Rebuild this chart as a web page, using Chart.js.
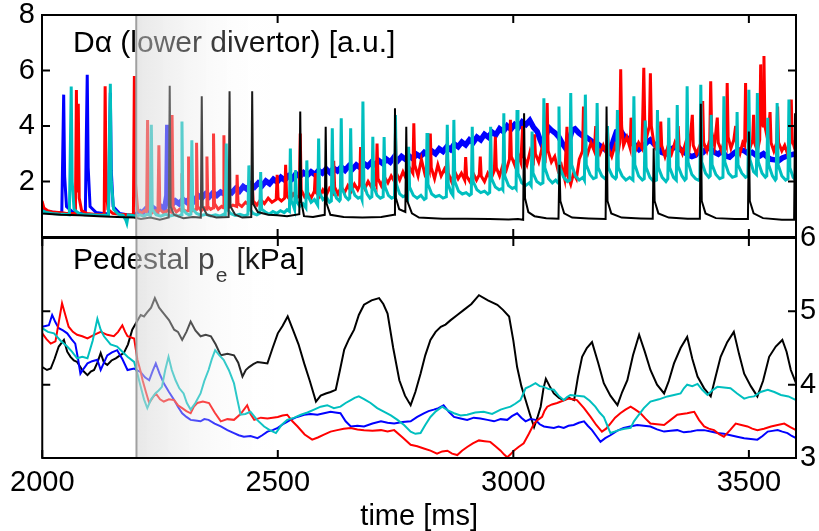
<!DOCTYPE html>
<html>
<head>
<meta charset="utf-8">
<script src="https://cdn.jsdelivr.net/npm/chart.js@4.4.0/dist/chart.umd.min.js"></script>
<style>
  body { margin: 0; background: #fff; }
  #wrap { position: relative; width: 819px; height: 531px; overflow: hidden; }
  canvas { position: absolute; left: 0; }
  #topChart { top: -10px; }
  #botChart { top: 218px; }
</style>
</head>
<body>
<div id="wrap">
  <canvas id="topChart" width="819" height="277"></canvas>
  <canvas id="botChart" width="819" height="313"></canvas>
</div>
<script>
// axis ticks
const timeTicks = [2000, 2500, 3000, 3500];
const daTicks = [2, 4, 6, 8];
const peTicks = [3, 4, 5, 6];
const shadeStart = 2200;
const shadeEnd = 2500;

// D-alpha (lower divertor) [a.u.], [time ms, value]
const daBlack = [[2000,0.85],[2040,0.8],[2080,0.78],[2120,0.75],[2160,0.72],[2195,0.7],[2210,0.65],[2230,0.7],[2250,0.62],
  [2269,0.7],[2271,5.45],[2273,1.1],[2280,0.8],[2300,0.68],[2320,0.72],[2337,0.7],[2339,5.07],[2341,1.1],[2350,0.8],
  [2370,0.7],[2396,0.72],[2398,5.25],[2400,1.1],[2410,0.8],[2425,0.7],[2444,0.72],[2446,5.25],[2448,1.2],[2458,0.9],
  [2480,0.8],[2500,0.78],[2520,0.75],[2546,0.82],[2548,4.52],[2550,1.3],[2556,0.75],[2575,0.72],[2600,0.8],[2602,3.97],
  [2604,1.2],[2612,0.8],[2640,0.72],[2680,0.7],[2720,0.72],[2747,0.8],[2749,4.64],[2751,1.4],[2758,1.0],[2771,0.9],
  [2773,3.97],[2775,1.3],[2785,0.85],[2800,0.7],[2850,0.66],[2900,0.66],[2950,0.65],[2990,0.63],[3010,0.65],[3021,0.62],
  [3023,4.46],[3025,1.4],[3032,0.9],[3045,0.75],[3070,0.68],[3096,0.66],[3098,2.6],[3100,1.3],[3108,0.85],[3125,0.7],
  [3160,0.67],[3196,0.65],[3198,4.7],[3200,1.3],[3208,0.85],[3230,0.7],[3270,0.67],[3296,0.66],[3298,3.2],[3300,1.3],
  [3308,0.85],[3330,0.7],[3370,0.66],[3396,0.66],[3398,4.8],[3400,1.3],[3408,0.85],[3430,0.68],[3470,0.65],[3498,0.65],
  [3500,3.8],[3502,1.3],[3510,0.85],[3530,0.68],[3570,0.62],[3596,0.62],[3598,4.46],[3600,2.0]];

const daCyan = [[2000,0.95],[2010,0.88],[2022,0.85],[2035,0.83],[2048,0.82],[2058,0.8],[2060,3.0],[2062,5.42],[2064,2.0],
  [2068,1.0],[2078,0.85],[2090,0.8],[2105,0.8],[2120,0.78],[2132,0.78],[2141,0.78],[2143,3.5],[2145,5.52],[2147,2.0],
  [2152,1.0],[2162,0.82],[2172,0.78],[2178,0.6],[2180,0.5],[2183,0.8],[2192,0.78],[2200,0.75],
  [2208,0.8],[2216,0.75],[2224,0.82],[2230,0.78],[2232,4.04],[2234,1.0],[2242,0.8],[2252,0.75],[2262,0.82],[2272,0.76],
  [2282,0.8],[2290,0.75],[2295,0.8],[2297,4.16],[2299,1.0],[2306,0.85],[2312,0.8],[2316,0.82],[2318,3.49],[2320,1.0],
  [2328,0.85],[2338,0.78],[2348,0.82],[2358,0.76],[2368,0.8],[2378,0.75],[2386,0.82],[2389,0.8],[2391,3.37],[2393,1.0],
  [2400,0.85],[2410,0.78],[2420,0.82],[2430,0.76],[2437,0.82],[2439,2.58],[2441,1.0],[2448,0.85],[2456,0.8],[2462,0.85],
  [2464,2.34],[2466,1.0],[2474,0.9],[2482,0.82],[2490,0.92],[2498,0.85],[2506,0.95],[2514,0.88],[2520,0.98],[2525,0.92],
  [2527,3.19],[2529,1.3],[2534,1.1],[2536,1.0],[2538,2.4],[2540,1.3],[2547,1.1],[2554,1.2],[2560,1.05],[2562,2.76],
  [2564,1.5],[2571,1.25],[2578,1.35],[2585,1.15],[2587,3.55],[2589,1.6],[2596,1.35],[2603,1.45],[2610,1.25],[2614,1.3],
  [2616,3.92],[2618,1.7],[2625,1.4],[2631,1.3],[2633,1.35],[2635,4.28],[2637,1.75],[2644,1.45],[2650,1.35],[2653,1.4],
  [2655,3.92],[2657,1.8],[2664,1.5],[2671,1.4],[2677,1.45],[2679,1.35],[2681,4.88],[2683,1.9],[2690,1.55],[2696,1.4],
  [2700,1.45],[2702,3.61],[2704,1.8],[2711,1.5],[2718,1.4],[2724,1.45],[2726,3.6],[2728,1.8],[2735,1.5],[2742,1.4],
  [2748,1.45],[2750,4.4],[2752,1.9],[2759,1.55],[2766,1.45],[2772,1.5],[2776,1.4],[2778,3.25],[2780,1.8],[2788,1.5],
  [2796,1.4],[2804,1.5],[2811,1.35],[2815,1.4],[2817,3.75],[2819,1.9],[2827,1.55],[2835,1.45],[2843,1.5],[2851,1.4],
  [2858,1.45],[2860,4.04],[2862,1.9],[2868,1.6],[2872,1.5],[2874,4.22],[2876,2.0],[2884,1.65],[2892,1.55],[2900,1.6],
  [2907,1.5],[2911,1.55],[2913,3.97],[2915,2.0],[2923,1.7],[2931,1.6],[2939,1.65],[2946,1.55],[2950,1.6],[2952,3.97],
  [2954,2.1],[2962,1.8],[2970,1.7],[2976,1.75],[2978,1.7],[2980,4.46],[2982,2.2],[2990,1.85],[2998,1.75],[3004,1.8],
  [3006,1.75],[3008,4.58],[3010,2.3],[3018,1.95],[3026,1.85],[3034,1.95],[3038,1.85],[3040,3.8],[3042,2.3],[3050,2.0],
  [3058,1.9],[3063,1.95],[3065,5.0],[3067,2.5],[3075,2.1],[3083,1.95],[3090,2.05],[3095,1.95],[3097,4.7],[3099,2.5],
  [3107,2.15],[3115,2.0],[3120,2.05],[3122,5.19],[3124,2.6],[3132,2.2],[3140,2.05],[3148,2.15],[3151,2.05],[3153,5.13],
  [3155,2.6],[3163,2.25],[3170,2.1],[3176,2.15],[3178,4.83],[3180,2.5],[3188,2.2],[3195,2.1],[3198,2.15],[3200,4.0],
  [3202,2.5],[3210,2.2],[3217,2.1],[3219,2.15],[3221,4.58],[3223,2.5],[3231,2.2],[3239,2.05],[3247,2.15],[3254,2.05],
  [3256,5.07],[3258,2.6],[3266,2.2],[3274,2.05],[3278,2.1],[3280,4.2],[3282,2.5],[3290,2.15],[3298,2.0],[3304,2.05],
  [3306,4.58],[3308,2.5],[3316,2.15],[3324,2.0],[3328,2.1],[3330,4.3],[3332,2.5],[3340,2.15],[3346,2.05],[3348,4.76],
  [3350,2.55],[3358,2.2],[3364,2.05],[3367,2.1],[3369,5.43],[3371,2.7],[3379,2.25],[3387,2.1],[3393,2.05],[3396,2.1],
  [3398,5.49],[3400,2.7],[3408,2.3],[3415,2.15],[3418,2.2],[3420,4.4],[3422,2.6],[3430,2.25],[3438,2.1],[3445,2.15],
  [3447,5.07],[3449,2.7],[3457,2.3],[3465,2.15],[3473,2.2],[3475,4.5],[3477,2.6],[3485,2.3],[3493,2.15],[3498,2.2],
  [3500,5.31],[3502,2.8],[3510,2.35],[3516,2.25],[3518,5.19],[3520,2.7],[3528,2.3],[3535,2.15],[3538,2.2],[3540,4.3],
  [3542,2.6],[3550,2.2],[3556,2.05],[3558,2.1],[3560,4.83],[3562,2.6],[3570,2.2],[3578,2.05],[3583,2.1],[3585,4.95],
  [3587,2.5],[3594,2.15],[3600,2.05]];

const daRed = [[2000,1.3],[2004,1.05],[2012,0.95],[2022,0.9],[2035,0.88],[2050,0.86],[2065,0.85],[2071,0.86],[2073,5.3],
  [2075,1.6],[2077,4.8],[2079,1.4],[2084,0.95],[2095,0.85],[2110,0.82],[2125,0.8],[2132,0.82],[2134,5.43],[2136,1.8],
  [2140,1.0],[2150,0.85],[2165,0.82],[2180,0.8],[2194,0.8],[2196,5.8],[2198,2.0],[2203,1.0],
  [2210,0.85],[2218,0.95],[2222,0.9],[2224,4.22],[2226,1.1],[2232,0.85],[2240,0.95],[2246,0.9],[2248,3.31],[2250,1.0],
  [2258,0.88],[2266,0.95],[2274,0.9],[2276,4.4],[2278,1.1],[2285,0.9],[2292,1.0],[2296,0.95],[2297,2.3],[2299,1.0],
  [2305,0.92],[2310,0.95],[2311,2.9],[2313,1.05],[2320,0.95],[2327,1.0],[2328,3.4],[2330,1.1],[2338,0.95],[2345,1.05],
  [2349,1.0],[2350,2.9],[2352,1.1],[2358,1.0],[2363,1.05],[2364,3.73],[2366,1.2],[2374,1.0],[2381,1.1],[2385,1.05],
  [2386,3.67],[2388,1.2],[2396,1.05],[2405,1.15],[2413,1.1],[2414,2.24],[2416,1.2],[2424,1.1],[2432,1.25],[2440,1.15],
  [2445,1.2],[2446,2.0],[2448,1.3],[2456,1.15],[2464,1.35],[2472,1.2],[2480,1.4],[2488,1.25],[2497,1.35],[2499,2.24],
  [2501,1.4],[2508,1.3],[2515,1.4],[2517,2.6],[2519,1.5],[2526,1.35],[2533,1.55],[2540,1.4],[2546,1.5],[2548,3.73],
  [2550,1.7],[2557,1.45],[2564,1.6],[2571,1.4],[2578,1.65],[2580,2.3],[2582,1.6],[2589,1.45],[2596,1.7],[2603,1.5],
  [2610,1.75],[2617,1.6],[2619,2.75],[2621,1.8],[2628,1.55],[2635,1.8],[2642,1.6],[2649,1.85],[2656,1.65],[2663,1.9],
  [2670,1.7],[2674,1.85],[2676,3.24],[2678,2.0],[2685,1.75],[2692,2.0],[2699,1.8],[2706,2.05],[2709,1.9],[2711,3.37],
  [2713,2.1],[2720,1.85],[2727,2.15],[2734,1.95],[2741,2.2],[2748,2.0],[2750,3.73],[2752,2.3],[2759,2.05],[2766,2.35],
  [2773,2.1],[2780,2.5],[2787,2.3],[2789,4.1],[2791,2.6],[2798,2.2],[2805,2.8],[2812,2.3],[2818,2.6],[2822,2.4],
  [2824,3.73],[2826,2.5],[2833,2.1],[2840,2.6],[2847,2.2],[2854,2.45],[2858,2.3],[2860,3.0],[2862,2.3],[2869,2.0],
  [2876,2.35],[2883,2.1],[2890,2.3],[2897,2.05],[2899,2.88],[2901,2.2],[2908,2.0],[2915,2.3],[2922,2.05],[2928,2.25],
  [2930,2.9],[2932,2.2],[2939,2.0],[2946,2.3],[2953,2.1],[2960,2.4],[2962,3.61],[2964,2.5],[2971,2.2],[2978,2.6],
  [2985,2.4],[2992,2.8],[2994,4.22],[2996,2.9],[3003,2.6],[3010,3.0],[3016,2.7],[3020,4.0],[3022,2.9],[3029,2.6],
  [3036,3.1],[3043,2.8],[3045,3.7],[3047,3.0],[3054,2.7],[3061,3.2],[3068,2.9],[3072,4.83],[3074,3.1],[3081,2.7],
  [3088,2.9],[3095,2.4],[3102,2.6],[3109,2.1],[3114,3.97],[3116,2.2],[3122,1.9],[3128,2.3],[3134,2.1],[3140,2.8],
  [3147,3.1],[3149,4.7],[3151,3.3],[3158,3.0],[3165,3.4],[3172,3.1],[3175,4.0],[3177,3.3],[3184,3.0],[3191,3.3],
  [3198,3.0],[3200,3.8],[3202,3.2],[3209,2.9],[3216,3.3],[3222,3.0],[3226,3.4],[3228,6.04],[3230,4.0],[3234,3.3],
  [3241,3.6],[3248,3.2],[3250,4.3],[3252,3.4],[3259,3.1],[3266,3.4],[3273,3.2],[3275,4.5],[3277,6.1],[3279,4.2],
  [3283,3.6],[3289,4.0],[3291,5.9],[3293,4.0],[3299,3.3],[3306,3.1],[3311,3.4],[3313,4.16],[3315,3.3],[3322,2.9],
  [3329,3.3],[3336,3.0],[3343,3.4],[3348,3.2],[3350,4.0],[3352,3.3],[3359,3.0],[3366,3.4],[3373,3.1],[3380,4.4],
  [3382,3.3],[3389,3.0],[3396,3.3],[3400,3.1],[3402,4.9],[3404,3.4],[3411,3.1],[3417,3.5],[3419,5.61],[3421,3.8],
  [3427,3.3],[3433,4.3],[3435,3.4],[3442,3.1],[3448,3.5],[3452,3.3],[3454,5.55],[3456,3.6],[3462,3.2],[3468,3.5],
  [3472,4.0],[3474,3.3],[3481,3.0],[3487,3.4],[3491,3.3],[3493,5.55],[3495,3.6],[3502,3.2],[3508,3.5],[3510,4.4],
  [3512,3.4],[3518,3.1],[3523,3.5],[3525,6.22],[3527,4.2],[3530,4.0],[3532,6.52],[3534,4.0],[3540,3.5],[3545,4.5],
  [3547,3.4],[3553,3.1],[3559,3.4],[3561,4.7],[3563,3.4],[3570,3.1],[3576,3.3],[3582,3.0],[3588,3.4],[3590,4.95],
  [3592,3.5],[3597,3.2],[3600,3.1]];

const daBlue = [[2000,1.0],[2010,0.93],[2020,0.9],[2030,0.88],[2042,0.86],[2044,3.0],[2046,5.13],[2048,2.2],[2052,1.1],
  [2065,0.9],[2080,0.85],[2092,0.86],[2094,3.5],[2096,5.85],[2098,2.5],[2102,1.1],[2115,0.88],[2130,0.85],[2141,0.84],
  [2143,3.0],[2145,5.2],[2147,2.4],[2151,1.1],[2165,0.85],[2180,0.8],[2195,0.76],
  [2205,0.95],[2212,0.85],[2220,1.0],[2228,0.9],[2236,1.05],[2244,0.95],[2252,1.1],[2260,1.0],[2265,1.5],[2267,4.04],
  [2269,1.6],[2275,1.15],[2283,1.3],[2291,1.2],[2299,1.35],[2307,1.25],[2315,1.42],[2323,1.3],[2331,1.5],[2339,1.4],
  [2347,1.55],[2355,1.45],[2363,1.6],[2371,1.5],[2379,1.62],[2387,1.55],[2395,1.7],[2403,1.6],[2411,1.75],[2419,1.65],
  [2427,1.82],[2435,1.72],[2443,1.9],[2451,1.8],[2459,1.95],[2467,1.85],[2475,2.02],[2483,1.92],[2491,2.08],[2499,1.98],
  [2507,2.15],[2515,2.05],[2523,2.2],[2531,2.1],[2539,2.28],[2547,2.18],[2555,2.32],[2563,2.22],[2571,2.35],[2579,2.25],
  [2587,2.4],[2595,2.3],[2603,2.45],[2611,2.32],[2619,2.48],[2627,2.38],[2635,2.52],[2643,2.4],[2651,2.56],[2659,2.45],
  [2667,2.6],[2675,2.5],[2683,2.65],[2691,2.55],[2699,2.7],[2707,2.6],[2715,2.75],[2723,2.65],[2731,2.8],[2739,2.7],
  [2747,2.88],[2755,2.75],[2763,2.9],[2771,2.8],[2779,2.92],[2787,2.82],[2795,2.98],[2803,2.9],[2811,3.05],[2819,2.95],
  [2827,3.1],[2835,3.0],[2843,3.18],[2851,3.08],[2859,3.25],[2867,3.15],[2875,3.35],[2883,3.25],[2891,3.42],[2899,3.32],
  [2907,3.5],[2915,3.4],[2923,3.6],[2931,3.5],[2939,3.7],[2947,3.6],[2955,3.78],[2963,3.68],[2971,3.9],[2979,3.8],
  [2987,4.0],[2995,3.88],[3003,4.05],[3011,3.95],[3019,4.15],[3027,4.05],[3035,4.2],[3043,3.95],[3051,3.8],[3057,3.5],
  [3063,3.25],[3069,3.6],[3075,3.95],[3081,3.85],[3089,3.75],[3097,3.6],[3105,3.35],[3113,3.15],[3119,3.5],[3125,3.85],
  [3131,3.9],[3139,3.75],[3147,3.65],[3155,3.6],[3163,3.5],[3171,3.4],[3179,3.35],[3187,3.25],[3195,3.15],[3203,3.05],
  [3211,3.4],[3219,3.8],[3227,3.85],[3235,3.65],[3243,3.55],[3251,3.45],[3259,3.3],[3267,3.15],[3275,3.25],[3283,3.4],
  [3291,3.5],[3299,3.35],[3307,3.2],[3315,3.05],[3323,3.0],[3331,3.15],[3339,3.2],[3347,3.28],[3355,3.15],[3363,3.05],
  [3371,2.95],[3379,2.9],[3387,2.95],[3395,3.1],[3403,3.05],[3411,3.2],[3419,3.18],[3427,3.05],[3435,2.98],[3443,3.1],
  [3451,2.92],[3459,2.88],[3467,3.0],[3475,3.1],[3483,3.15],[3491,3.1],[3499,3.0],[3507,3.05],[3515,2.95],[3523,2.92],
  [3531,3.0],[3539,2.88],[3547,2.8],[3555,2.78],[3563,2.75],[3571,2.85],[3579,2.9],[3587,2.95],[3595,2.98],[3600,3.0]];

// pedestal pe [kPa], [time ms, value]
const peBlack = [[2000,4.24],[2010,4.2],[2018,4.22],[2026,4.35],[2035,4.52],[2046,4.61],[2053,4.45],[2060,4.38],[2067,4.33],
  [2074,4.31],[2085,4.2],[2096,4.13],[2103,4.18],[2110,4.20],[2117,4.3],[2124,4.43],[2131,4.3],[2138,4.27],[2147,4.33],
  [2156,4.36],[2165,4.4],[2173,4.43],[2182,4.55],[2191,4.75],[2200,4.85],[2209,4.95],[2216,4.93],[2223,4.99],[2231,5.05],
  [2239,5.18],[2248,5.05],[2258,4.97],[2269,4.88],[2280,4.75],[2288,4.72],[2297,4.61],[2306,4.72],[2315,4.86],[2325,4.74],
  [2336,4.66],[2347,4.68],[2358,4.66],[2368,4.55],[2379,4.40],[2393,4.42],[2407,4.40],[2416,4.3],[2425,4.11],[2432,4.2],
  [2439,4.24],[2448,4.28],[2457,4.31],[2468,4.3],[2478,4.29],[2489,4.5],[2500,4.70],[2510,4.8],[2521,4.93],[2532,4.75],
  [2544,4.55],[2556,4.29],[2568,4.05],[2581,3.77],[2591,3.85],[2602,3.88],[2612,3.9],[2623,3.93],[2632,4.2],[2641,4.48],
  [2651,4.62],[2662,4.75],[2672,4.95],[2683,5.09],[2699,5.15],[2715,5.18],[2724,5.1],[2733,4.97],[2745,4.5],[2758,4.06],
  [2770,3.85],[2782,3.72],[2792,3.9],[2803,4.15],[2813,4.4],[2824,4.61],[2835,4.72],[2846,4.79],[2856,4.82],[2867,4.88],
  [2881,4.95],[2895,5.02],[2911,5.1],[2927,5.22],[2946,5.15],[2966,5.09],[2978,5.02],[2991,4.93],[3000,4.6],[3008,4.24],
  [3017,3.98],[3026,3.79],[3035,3.6],[3044,3.42],[3051,3.55],[3058,3.70],[3064,3.95],[3069,4.08],[3077,3.98],[3086,3.88],
  [3097,3.82],[3107,3.79],[3118,3.82],[3129,3.79],[3137,4.1],[3146,4.38],[3156,4.5],[3167,4.58],[3180,4.3],[3192,4.02],
  [3206,3.85],[3221,3.72],[3231,3.9],[3242,4.06],[3254,4.4],[3267,4.68],[3279,4.45],[3291,4.20],[3305,4.0],[3320,3.88],
  [3330,4.05],[3341,4.29],[3355,4.5],[3369,4.65],[3380,4.35],[3391,4.11],[3405,3.95],[3419,3.84],[3429,4.1],[3440,4.38],
  [3454,4.58],[3468,4.72],[3479,4.42],[3490,4.15],[3504,3.98],[3518,3.84],[3530,4.05],[3543,4.38],[3557,4.52],[3571,4.61],
  [3580,4.45],[3589,4.20],[3600,4.02]];

const peCyan = [[2000,4.77],[2012,4.72],[2025,4.70],[2039,4.6],[2053,4.52],[2063,4.45],[2074,4.36],[2085,4.38],[2096,4.36],
  [2107,4.6],[2117,4.90],[2124,4.75],[2131,4.66],[2145,4.55],[2159,4.52],[2170,4.45],[2181,4.38],[2195,4.31],[2202,4.15],
  [2209,3.97],[2216,3.8],[2223,3.68],[2231,3.8],[2240,3.88],[2247,3.92],[2254,3.97],[2261,4.2],[2268,4.38],[2275,4.2],
  [2283,4.06],[2291,3.95],[2300,3.88],[2307,3.75],[2315,3.66],[2325,3.75],[2336,3.88],[2344,4.05],[2353,4.20],[2360,4.35],
  [2367,4.47],[2376,4.4],[2385,4.34],[2396,4.2],[2407,4.02],[2414,3.8],[2421,3.59],[2431,3.6],[2442,3.63],[2456,3.52],
  [2471,3.43],[2483,3.38],[2496,3.34],[2508,3.45],[2520,3.52],[2535,3.55],[2549,3.59],[2563,3.62],[2577,3.66],[2591,3.7],
  [2605,3.72],[2619,3.68],[2633,3.70],[2644,3.75],[2655,3.79],[2663,3.82],[2672,3.84],[2684,3.8],[2697,3.75],[2711,3.68],
  [2726,3.63],[2740,3.58],[2754,3.52],[2768,3.45],[2782,3.36],[2792,3.33],[2803,3.34],[2813,3.45],[2824,3.56],[2836,3.64],
  [2849,3.70],[2861,3.65],[2874,3.61],[2888,3.58],[2902,3.59],[2919,3.62],[2937,3.63],[2955,3.6],[2973,3.66],[2983,3.68],
  [2994,3.70],[3004,3.74],[3015,3.79],[3026,3.95],[3036,3.98],[3047,4.02],[3056,3.98],[3065,3.97],[3075,3.94],[3086,3.93],
  [3096,3.85],[3107,3.79],[3114,3.83],[3121,3.86],[3135,3.85],[3150,3.84],[3162,3.78],[3174,3.70],[3183,3.62],[3192,3.56],
  [3199,3.45],[3206,3.34],[3215,3.36],[3224,3.38],[3236,3.4],[3249,3.41],[3256,3.5],[3263,3.56],[3277,3.68],[3291,3.77],
  [3309,3.8],[3327,3.84],[3341,3.86],[3355,3.88],[3362,3.95],[3369,4.00],[3380,3.98],[3391,4.01],[3401,3.93],[3412,3.86],
  [3422,3.92],[3433,3.97],[3447,3.96],[3461,3.95],[3475,3.88],[3490,3.81],[3500,3.83],[3511,3.84],[3525,3.9],[3540,3.93],
  [3554,3.9],[3568,3.86],[3584,3.84],[3600,3.79]];

const peRed = [[2000,4.70],[2009,4.62],[2018,4.56],[2028,4.59],[2035,4.85],[2042,5.11],[2049,4.95],[2056,4.79],[2065,4.72],
  [2074,4.68],[2085,4.66],[2096,4.63],[2110,4.68],[2124,4.72],[2138,4.68],[2152,4.66],[2161,4.72],[2170,4.81],[2176,4.72],
  [2181,4.66],[2195,4.63],[2202,4.34],[2208,4.2],[2213,4.06],[2220,3.9],[2227,3.75],[2234,3.82],[2241,3.88],[2250,3.8],
  [2258,3.77],[2269,3.8],[2280,3.79],[2288,3.72],[2297,3.68],[2306,3.64],[2315,3.61],[2322,3.7],[2329,3.75],[2341,3.77],
  [2354,3.75],[2366,3.62],[2379,3.50],[2393,3.53],[2407,3.52],[2421,3.6],[2435,3.72],[2442,3.6],[2450,3.52],[2464,3.55],
  [2478,3.54],[2489,3.55],[2500,3.56],[2510,3.58],[2520,3.59],[2531,3.5],[2542,3.43],[2557,3.32],[2573,3.25],[2585,3.28],
  [2598,3.32],[2612,3.36],[2626,3.38],[2640,3.4],[2655,3.41],[2669,3.39],[2683,3.38],[2701,3.37],[2719,3.38],[2733,3.36],
  [2747,3.38],[2765,3.28],[2782,3.18],[2796,3.16],[2810,3.13],[2824,3.1],[2838,3.06],[2849,3.09],[2860,3.10],[2870,3.06],
  [2881,3.04],[2891,3.1],[2902,3.15],[2914,3.2],[2927,3.24],[2939,3.23],[2951,3.22],[2962,3.16],[2973,3.10],[2980,3.05],
  [2987,3.01],[2994,3.05],[3001,3.10],[3011,3.15],[3022,3.20],[3033,3.33],[3044,3.47],[3052,3.52],[3061,3.56],[3066,3.64],
  [3072,3.70],[3082,3.73],[3093,3.75],[3105,3.78],[3117,3.81],[3126,3.8],[3135,3.79],[3150,3.68],[3164,3.56],[3176,3.45],
  [3188,3.36],[3197,3.4],[3206,3.47],[3216,3.55],[3227,3.61],[3238,3.66],[3249,3.70],[3259,3.66],[3270,3.61],[3280,3.54],
  [3291,3.47],[3305,3.46],[3320,3.45],[3334,3.52],[3348,3.59],[3358,3.6],[3369,3.61],[3376,3.62],[3384,3.63],[3394,3.52],
  [3405,3.43],[3415,3.4],[3426,3.38],[3436,3.33],[3447,3.29],[3460,3.38],[3472,3.47],[3484,3.45],[3497,3.43],[3507,3.4],
  [3518,3.38],[3532,3.4],[3547,3.43],[3561,3.45],[3575,3.47],[3588,3.42],[3600,3.38]];

const peBlue = [[2000,4.79],[2007,4.8],[2014,4.81],[2021,4.95],[2028,4.85],[2035,4.77],[2044,4.74],[2053,4.70],[2062,4.62],
  [2070,4.56],[2076,4.35],[2081,4.15],[2088,4.22],[2096,4.29],[2106,4.32],[2117,4.34],[2124,4.20],[2131,4.3],[2138,4.40],
  [2148,4.44],[2159,4.47],[2170,4.35],[2181,4.20],[2195,4.22],[2209,4.17],[2218,4.1],[2227,4.06],[2234,4.18],[2241,4.29],
  [2249,4.15],[2258,4.02],[2269,3.9],[2280,3.79],[2288,3.7],[2297,3.61],[2306,3.56],[2315,3.52],[2325,3.51],[2336,3.50],
  [2344,3.53],[2353,3.52],[2366,3.47],[2379,3.43],[2393,3.38],[2407,3.34],[2417,3.31],[2428,3.29],[2442,3.3],[2457,3.27],
  [2467,3.31],[2478,3.36],[2489,3.38],[2500,3.41],[2513,3.47],[2527,3.52],[2541,3.56],[2556,3.59],[2570,3.6],[2584,3.59],
  [2598,3.61],[2612,3.63],[2622,3.62],[2633,3.61],[2644,3.5],[2655,3.43],[2669,3.44],[2683,3.43],[2701,3.47],[2719,3.50],
  [2733,3.48],[2747,3.47],[2765,3.49],[2782,3.50],[2796,3.56],[2810,3.61],[2820,3.64],[2831,3.66],[2841,3.68],[2852,3.72],
  [2863,3.63],[2874,3.56],[2888,3.54],[2902,3.52],[2916,3.55],[2930,3.54],[2945,3.52],[2959,3.50],[2973,3.53],[2987,3.52],
  [2997,3.57],[3008,3.61],[3017,3.55],[3026,3.50],[3036,3.53],[3047,3.52],[3056,3.46],[3065,3.43],[3075,3.42],[3086,3.41],
  [3096,3.43],[3107,3.41],[3117,3.44],[3128,3.45],[3139,3.48],[3150,3.50],[3158,3.44],[3167,3.38],[3176,3.3],[3185,3.22],
  [3195,3.27],[3206,3.31],[3220,3.37],[3234,3.41],[3248,3.43],[3263,3.45],[3277,3.44],[3291,3.43],[3305,3.39],[3320,3.36],
  [3334,3.37],[3348,3.38],[3362,3.35],[3377,3.36],[3391,3.38],[3405,3.38],[3419,3.36],[3433,3.34],[3447,3.33],[3461,3.31],
  [3475,3.29],[3490,3.27],[3504,3.26],[3518,3.25],[3529,3.3],[3540,3.36],[3550,3.37],[3561,3.38],[3571,3.36],[3582,3.34],
  [3591,3.3],[3600,3.27]];

const FONT = '"Liberation Sans", Arial, Helvetica, sans-serif';
const CYAN = '#00bfbf';

function toXY(arr) {
  return arr.map(p => ({ x: p[0], y: p[1] }));
}

function line(data, color, width) {
  return { data: toXY(data), borderColor: color, borderWidth: width, pointRadius: 0, tension: 0, fill: false };
}

// label, shaded window and boxed frame with inward ticks (matlab look)
function panelPlugin(drawLabel) {
  return {
    id: 'panel',
    afterDatasetsDraw(chart) {
      const ctx = chart.ctx, a = chart.chartArea, xs = chart.scales.x;
      ctx.save();
      ctx.beginPath();
      ctx.rect(a.left, a.top, a.right - a.left, a.bottom - a.top);
      ctx.clip();
      drawLabel(ctx, a);

      const x0 = xs.getPixelForValue(shadeStart), x1 = xs.getPixelForValue(shadeEnd);
      const grad = ctx.createLinearGradient(x0, 0, x1, 0);
      grad.addColorStop(0, 'rgba(215,215,215,0.58)');
      grad.addColorStop(1, 'rgba(255,255,255,0)');
      ctx.fillStyle = grad;
      ctx.fillRect(x0, a.top, x1 - x0, a.bottom - a.top);
      ctx.strokeStyle = '#a0a0a0';
      ctx.lineWidth = 2;
      ctx.beginPath();
      ctx.moveTo(x0, a.top);
      ctx.lineTo(x0, a.bottom);
      ctx.stroke();
      ctx.restore();

      ctx.save();
      ctx.strokeStyle = '#000';
      ctx.lineWidth = 2;
      ctx.strokeRect(a.left, a.top, a.right - a.left, a.bottom - a.top);
      ctx.beginPath();
      timeTicks.forEach(v => {
        const x = xs.getPixelForValue(v);
        ctx.moveTo(x, a.top); ctx.lineTo(x, a.top + 8);
        ctx.moveTo(x, a.bottom); ctx.lineTo(x, a.bottom - 8);
      });
      const ys = chart.scales.y;
      ys.ticks.forEach(t => {
        const y = ys.getPixelForValue(t.value);
        ctx.moveTo(a.left, y); ctx.lineTo(a.left + 8, y);
        ctx.moveTo(a.right, y); ctx.lineTo(a.right - 8, y);
      });
      ctx.stroke();
      ctx.restore();
    }
  };
}

const tickFont = { family: FONT, size: 29, lineHeight: 1 };

// upper panel: D-alpha
new Chart(document.getElementById('topChart'), {
  type: 'line',
  data: {
    datasets: [
      line(daBlack, '#000', 2),
      line(daCyan, CYAN, 3),
      line(daRed, '#ff0000', 3),
      Object.assign(line(daBlue, '#0000ff', 4), {
        segment: { borderWidth: c => c.p0.parsed.x >= shadeStart ? 5.5 : 3 }
      })
    ]
  },
  options: {
    responsive: false,
    animation: false,
    events: [],
    layout: { padding: { top: 25, bottom: 30, left: 0, right: 23 } },
    plugins: { legend: { display: false }, tooltip: { enabled: false } },
    scales: {
      x: { type: 'linear', min: 2000, max: 3600, display: false },
      y: {
        min: 0, max: 8,
        afterBuildTicks: s => { s.ticks = daTicks.map(v => ({ value: v })); },
        afterFit: s => { s.width = 42; },
        grid: { display: false, drawTicks: false },
        border: { display: false },
        ticks: { color: '#000', font: tickFont, padding: 7 }
      }
    }
  },
  plugins: [panelPlugin((ctx, a) => {
    ctx.fillStyle = '#000';
    ctx.font = '30px ' + FONT;
    ctx.textBaseline = 'alphabetic';
    ctx.fillText('D\u03b1 (lower divertor) [a.u.]', 73, a.top + 37);
  })]
});

// lower panel: pedestal pressure
new Chart(document.getElementById('botChart'), {
  type: 'line',
  data: {
    datasets: [
      line(peCyan, CYAN, 2),
      line(peRed, '#ff0000', 2),
      line(peBlue, '#0000ff', 2),
      line(peBlack, '#000', 2)
    ]
  },
  options: {
    responsive: false,
    animation: false,
    events: [],
    layout: { padding: { top: 20, bottom: 0, left: 42, right: 0 } },
    plugins: { legend: { display: false }, tooltip: { enabled: false } },
    scales: {
      x: {
        type: 'linear', min: 2000, max: 3600,
        afterBuildTicks: s => { s.ticks = timeTicks.map(v => ({ value: v })); },
        afterFit: s => { s.height = 73; },
        grid: { display: false, drawTicks: false },
        border: { display: false },
        ticks: { color: '#000', font: tickFont, padding: 10, maxRotation: 0, callback: v => String(v) },
        title: { display: true, text: 'time [ms]', color: '#000', font: { family: FONT, size: 29, lineHeight: 1 }, padding: 0 }
      },
      y: {
        position: 'right',
        min: 3, max: 6,
        afterBuildTicks: s => { s.ticks = peTicks.map(v => ({ value: v })); },
        afterFit: s => { s.width = 23; },
        grid: { display: false, drawTicks: false },
        border: { display: false },
        ticks: { color: '#000', font: tickFont, padding: 4 }
      }
    }
  },
  plugins: [panelPlugin((ctx, a) => {
    ctx.fillStyle = '#000';
    ctx.textBaseline = 'alphabetic';
    ctx.font = '30px ' + FONT;
    let x = 73, y = a.top + 31;
    ctx.fillText('Pedestal p', x, y);
    x += ctx.measureText('Pedestal p').width + 1;
    ctx.font = '21px ' + FONT;
    ctx.fillText('e', x, y + 13);
    x += ctx.measureText('e').width + 9;
    ctx.font = '30px ' + FONT;
    ctx.fillText('[kPa]', x, y);
  })]
});
</script>
</body>
</html>
